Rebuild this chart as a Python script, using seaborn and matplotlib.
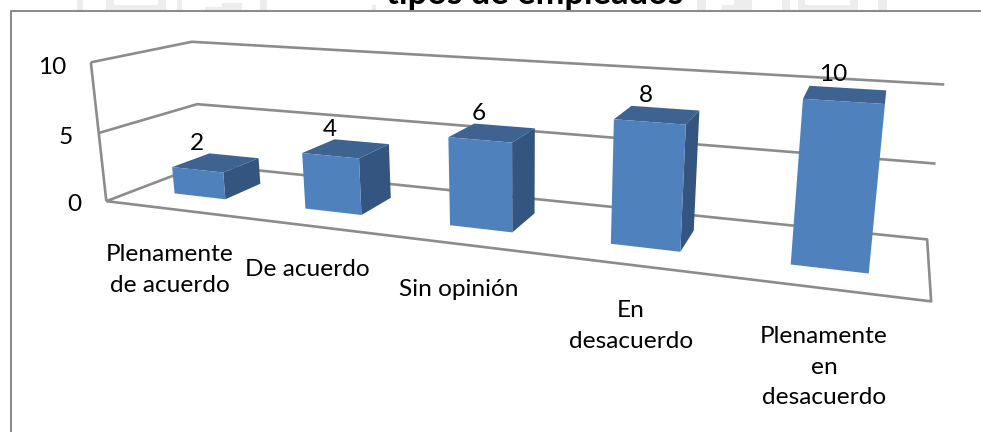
import numpy as np
import matplotlib
matplotlib.use("Agg")
import matplotlib.pyplot as plt
from matplotlib.lines import Line2D
from matplotlib.patches import Rectangle
from mpl_toolkits.mplot3d.art3d import Line3DCollection
import seaborn as sns

# Survey answers and how many respondents chose each one
categories = ["Plenamente\nde acuerdo", "De acuerdo", "Sin opinión", "En\ndesacuerdo",
              "Plenamente\nen\ndesacuerdo"]
values = [2, 4, 6, 8, 10]
value_ticks = [0, 5, 10]

sns.set_theme(style="white", font="Lato")
plt.rcParams["font.family"] = ["Lato", "DejaVu Sans"]

W, H = 981, 432
FRONT, TOP, SIDE = "#4f81bd", "#3e6391", "#33557f"
GRID = "#8c8c8c"
TEXT = "#000000"
CLEAR = (0, 0, 0, 0)
FONT = 17.6

# Camera calibration: box corners (category, depth, value) and where they land on the canvas
box_corners = np.array([(0, 0, 0), (0, 0, 5), (0, 0, 10), (0, 1, 0), (0, 1, 5), (0, 1, 10),
                        (5, 1, 0), (5, 1, 5), (5, 1, 10), (5, 0, 0)], float)
canvas_points = np.array([(106, 201), (100, 133), (90, 62), (202, 165), (197, 104), (192, 42),
                          (927, 239), (936, 163), (944, 85), (931, 302)], float)


def fit_camera(world, image):
    """Direct linear transform, solved on rescaled coordinates for stability."""
    scale_w = np.diag([1 / 5, 1, 1 / 10, 1])
    scale_i = np.diag([1000, 1000, 1.0])
    rows = []
    for (x, y, z), (u, v) in zip(world @ scale_w[:3, :3], image / 1000):
        rows.append([x, y, z, 1, 0, 0, 0, 0, -u * x, -u * y, -u * z, -u])
        rows.append([0, 0, 0, 0, x, y, z, 1, -v * x, -v * y, -v * z, -v])
    p = np.linalg.svd(np.array(rows))[2][-1].reshape(3, 4)
    p = scale_i @ p @ scale_w
    return p / p[2, 3]


camera = fit_camera(box_corners, canvas_points)


def project(x, y, z):
    u, v, w = camera @ np.array([x, y, z, 1.0])
    return u / w, v / w


fig = plt.figure(figsize=(W / 100, H / 100), dpi=100, facecolor="white")

# Pale letterhead marks showing along the top edge of the page
letterhead = [(77, 0, 83, 10), (106, 0, 114, 10), (158, 0, 166, 10), (114, 5, 158, 10),
              (177, 0, 182, 10), (222, 3, 242, 10), (205, 7, 222, 10), (260, 0, 267, 10),
              (372, 5, 376, 10), (697, 0, 706, 10), (734, 0, 752, 10), (722, 5, 734, 10),
              (782, 0, 790, 10), (798, 0, 805, 10), (850, 0, 858, 10), (805, 5, 850, 10),
              (878, 0, 887, 10)]
for x0, y0, x1, y1 in letterhead:
    fig.add_artist(Rectangle((x0 / W, 1 - y1 / H), (x1 - x0) / W, (y1 - y0) / H,
                             transform=fig.transFigure, facecolor="#ededed", edgecolor="none"))

ax = fig.add_axes([0, 0, 1, 1], projection="3d", computed_zorder=False)
ax.set_axis_off()
ax.patch.set_alpha(0)
ax.set_xlim(0, 5)
ax.set_ylim(0, 1)
ax.set_zlim(0, 10)

# Fixed view: the 3D axes use the calibrated camera and fill the canvas
view_matrix = np.vstack([camera[0], camera[1], [0, 1, 0, 0], camera[2]])
ax.get_proj = lambda: view_matrix
ax.apply_aspect = lambda *args, **kwargs: None

# Wall and floor outline
n = len(categories)
top_value = value_ticks[-1]
outline = [[(0, 0, t), (0, 1, t), (n, 1, t)] for t in value_ticks[1:]]
outline.append([(0, 0, 0), (0, 1, 0), (n, 1, 0), (n, 0, 0), (0, 0, 0)])
outline.append([(0, 0, 0), (0, 0, top_value)])
ax.add_collection3d(Line3DCollection(outline, colors=GRID, linewidths=1.9, zorder=1),
                    autolim=False)

# Bars: faces are bottom, top, front, back, left, right
bar_width = 0.4
bar_depth = 0.4
bar_front = 0.3
label_dx = [0, 0, -1, -4, -10]
for i, val in enumerate(values):
    left = i + (1 - bar_width) / 2
    ax.bar3d(left, bar_front, 0, bar_width, bar_depth, val,
             color=[CLEAR, TOP, FRONT, CLEAR, CLEAR, SIDE],
             shade=False, edgecolor="none", zorder=2 + i)
    x_top, y_top = project(i + 0.5, bar_front, val)
    ax.annotate(str(val), (x_top, y_top), xytext=(label_dx[i] * 0.72, 19),
                textcoords="offset points", ha="center", va="center",
                fontsize=FONT, color=TEXT, zorder=20)

ax.viewLim.intervalx = (0, W)
ax.viewLim.intervaly = (H, 0)

# Value axis labels
for tick, x_right, y_c in zip(value_ticks, (81, 73, 66), (205, 137, 67)):
    fig.text(x_right / W, 1 - y_c / H, str(tick), ha="right", va="center",
             fontsize=FONT, color=TEXT)

# Category labels
for label, x_c, y_c in zip(categories, (170, 307, 459, 631, 824), (270, 270, 290, 326, 367)):
    fig.text(x_c / W, 1 - y_c / H, label, ha="center", va="center", ma="center",
             fontsize=FONT, color=TEXT, linespacing=1.53)

# Chart border and the title sitting above it
fig.add_artist(Line2D([10.5 / W, 10.5 / W, 1], [0, 1 - 10.5 / H, 1 - 10.5 / H],
                      color=GRID, lw=1.5))
fig.text(535 / W, 1 - 4 / H, "tipos de empleados", ha="center", va="baseline",
         fontsize=24.8, fontweight="bold", color="black")

fig.savefig("out.png", dpi=100)
